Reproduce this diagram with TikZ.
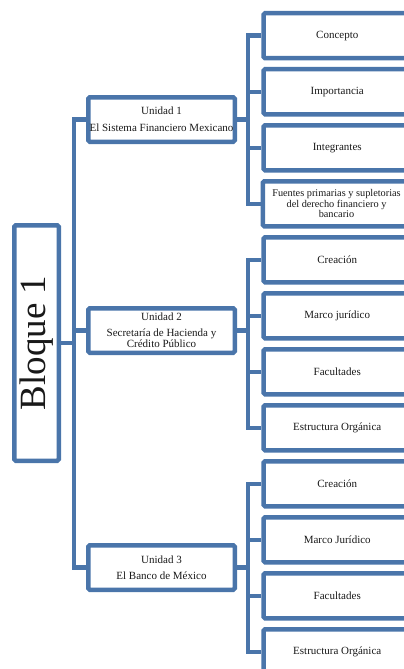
\documentclass[tikz,border=0pt]{standalone}
\usepackage{fontspec}
\setmainfont{Liberation Serif}
\definecolor{bl}{RGB}{74,117,170}
\begin{document}
\begin{tikzpicture}[x=1pt,y=-1pt,
  box/.style={rectangle, draw=bl, line width=4.5pt, rounded corners=1.5pt, inner sep=0pt, align=center, text=black!90},
  child/.style={box, minimum width=147.5pt, minimum height=45pt, font=\fontsize{11}{10.7}\selectfont},
  unit/.style={box, minimum width=146.5pt, minimum height=44.5pt, font=\fontsize{11}{10.7}\selectfont},
  conn/.style={draw=bl, line width=4.5pt}]
\useasboundingbox (0,0) rectangle (404,669);
\clip (0,0) rectangle (404,669);
% main block
\node[box, rotate=90, minimum width=235.5pt, minimum height=44.5pt, font=\fontsize{37}{40}\selectfont] (bloque) at (36.5,343) {Bloque 1};
% units
\node[unit] (u1) at (161.5,119.5) {Unidad 1\\[6.3pt]El Sistema Financiero Mexicano};
\node[unit] (u2) at (161.5,330.5) {Unidad 2\\[5.3pt]Secretaría de Hacienda y\\Crédito Público};
\node[unit] (u3) at (161.5,567.5) {Unidad 3\\[5.3pt]El Banco de México};
% children
\node[child] (c1) at (337.25,35.75) {Concepto};
\node[child] (c2) at (337.25,91.75) {Importancia};
\node[child] (c3) at (337.25,147.75) {Integrantes};
\node[child, font=\fontsize{10.3}{10.7}\selectfont] (c4) at (336.5,203.75) {Fuentes primarias y supletorias\\del derecho financiero y\\bancario};
\node[child] (c5) at (337.25,259.75) {Creación};
\node[child] (c6) at (337.25,315.75) {Marco jurídico};
\node[child] (c7) at (337.25,371.75) {Facultades};
\node[child] (c8) at (337.25,427.75) {Estructura Orgánica};
\node[child] (c9) at (337.25,483.75) {Creación};
\node[child] (c10) at (337.25,539.75) {Marco Jurídico};
\node[child] (c11) at (337.25,595.75) {Facultades};
\node[child] (c12) at (337.25,651.75) {Estructura Orgánica};
% connector x positions
\coordinate (tx) at (74,0);
\coordinate (bx) at (248,0);
% trunk
\draw[conn] (u1.west) -- (u1.west -| tx) -- (u3.west -| tx) -- (u3.west);
\draw[conn] (u2.west) -- (u2.west -| tx);
\draw[conn] (bloque.south) -- (bloque.south -| tx);
% group 1
\draw[conn] (c1.west) -- (c1.west -| bx) -- (c4.west -| bx) -- (c4.west);
\draw[conn] (c2.west) -- (c2.west -| bx);
\draw[conn] (c3.west) -- (c3.west -| bx);
\draw[conn] (u1.east) -- (u1.east -| bx);
% group 2
\draw[conn] (c5.west) -- (c5.west -| bx) -- (c8.west -| bx) -- (c8.west);
\draw[conn] (c6.west) -- (c6.west -| bx);
\draw[conn] (c7.west) -- (c7.west -| bx);
\draw[conn] (u2.east) -- (u2.east -| bx);
% group 3
\draw[conn] (c9.west) -- (c9.west -| bx) -- (c12.west -| bx) -- (c12.west);
\draw[conn] (c10.west) -- (c10.west -| bx);
\draw[conn] (c11.west) -- (c11.west -| bx);
\draw[conn] (u3.east) -- (u3.east -| bx);
\end{tikzpicture}
\end{document}
